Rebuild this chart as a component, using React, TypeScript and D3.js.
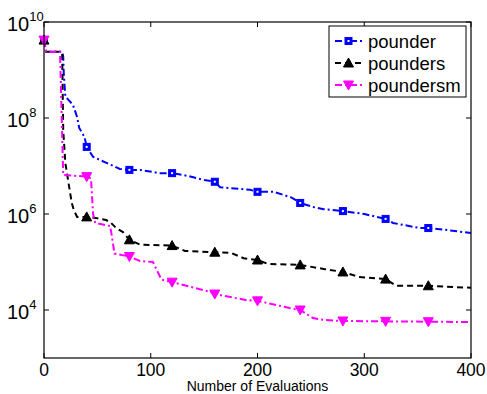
import React from "react";
import * as d3 from "d3";

// evaluations / objective values
const pounderEvals = [0, 2, 17, 18, 18.5, 20, 27, 31, 33, 38, 40, 46, 59, 71, 80, 90, 108, 120, 135, 150, 160, 165, 193, 200, 215, 232, 240, 252, 262, 280, 300, 320, 327, 352, 360, 375, 400];
const pounderVals = [4.2e9, 2.4e9, 2.4e9, 1.9e9, 8.7e8, 2.8e8, 1.9e8, 1.05e8, 6.2e7, 4.0e7, 2.5e7, 1.55e7, 1.15e7, 8.7e6, 8.3e6, 8.3e6, 7.1e6, 7.1e6, 6.2e6, 5.1e6, 4.7e6, 3.6e6, 3.2e6, 2.9e6, 2.9e6, 2.2e6, 1.7e6, 1.4e6, 1.26e6, 1.15e6, 1.0e6, 7.9e5, 6.5e5, 5.1e5, 5.1e5, 4.7e5, 4.0e5];

const poundersEvals = [0, 2, 17, 18, 20, 24, 26, 28, 31, 40, 48, 58, 62, 68, 74, 80, 90, 120, 132, 160, 175, 187, 200, 210, 240, 263, 280, 295, 320, 330, 360, 400];
const poundersVals = [4.2e9, 2.4e9, 2.4e9, 5.6e7, 1.15e7, 3.2e6, 1.7e6, 1.2e6, 8.7e5, 8.7e5, 8.3e5, 7.5e5, 6.8e5, 5.0e5, 4.2e5, 2.9e5, 2.3e5, 2.2e5, 1.7e5, 1.6e5, 1.55e5, 1.2e5, 1.1e5, 9.1e4, 8.7e4, 7.1e4, 6.2e4, 4.9e4, 4.4e4, 3.2e4, 3.2e4, 2.9e4];

const poundersmEvals = [0, 2, 15, 18, 40, 44, 46, 48, 62, 64, 66, 80, 90, 102, 110, 120, 155, 160, 190, 200, 230, 240, 252, 262, 280, 320, 360, 400];
const poundersmVals = [4.2e9, 2.4e9, 2.4e9, 6.5e6, 6.0e6, 5.5e6, 1.0e6, 6.5e5, 5.6e5, 3.0e5, 1.5e5, 1.3e5, 1.05e5, 1.0e5, 4.3e4, 3.8e4, 2.4e4, 2.15e4, 1.6e4, 1.55e4, 1.1e4, 1.0e4, 6.8e3, 6.2e3, 5.9e3, 5.8e3, 5.7e3, 5.6e3];

const markerEvals = [0, 40, 80, 120, 160, 200, 240, 280, 320, 360];
const xTicks = [0, 100, 200, 300, 400];
const yTickExps = [4, 6, 8, 10];

const seriesNames = ["pounder", "pounders", "poundersm"];

interface Pt { e: number; v: number; }

const zip = (es: number[], vs: number[]): Pt[] => es.map((e, i) => ({ e, v: vs[i] }));

const series = [
  { name: seriesNames[0], pts: zip(pounderEvals, pounderVals), color: "#0000ff", dash: "7,3,2,3", marker: "square" },
  { name: seriesNames[1], pts: zip(poundersEvals, poundersVals), color: "#000000", dash: "6,4", marker: "up" },
  { name: seriesNames[2], pts: zip(poundersmEvals, poundersmVals), color: "#ff00ff", dash: "7,3,2,3", marker: "down" },
];

const W = 487, H = 394;
const left = 44, right = 471, top = 22, bottom = 358;

const xScale = d3.scaleLinear().domain([0, 400]).range([left, right]);
const yScale = d3.scaleLog().domain([1e3, 1e10]).range([bottom, top]);

const line = d3.line<Pt>().x((d) => xScale(d.e)).y((d) => yScale(d.v));

function Marker({ kind, x, y, color }: { kind: string; x: number; y: number; color: string }) {
  if (kind === "square") {
    return (
      <g>
        <rect x={x - 3.5} y={y - 3.5} width={7} height={7} fill={color} stroke={color} strokeWidth={1} />
        <rect x={x - 1} y={y - 1} width={2} height={2} fill="#fff" />
      </g>
    );
  }
  if (kind === "up") {
    return <path d={`M${x},${y - 5}L${x + 5},${y + 4}L${x - 5},${y + 4}Z`} fill={color} stroke={color} strokeWidth={1} />;
  }
  return <path d={`M${x},${y + 5}L${x + 5},${y - 4}L${x - 5},${y - 4}Z`} fill={color} stroke={color} strokeWidth={1} />;
}

export default function App() {
  const legendY = [41, 63, 85];
  return (
    <svg width={W} height={H} style={{ position: "absolute", left: 0, top: 0, background: "#fff" }}
      fontFamily="'Liberation Sans', Arial, Helvetica, sans-serif">
      <rect x={0} y={0} width={W} height={H} fill="#fff" />
      <defs>
        <clipPath id="plot">
          <rect x={left} y={top} width={right - left} height={bottom - top} />
        </clipPath>
      </defs>

      {/* series lines */}
      <g clipPath="url(#plot)">
        {series.map((s) => (
          <path key={s.name} d={line(s.pts) || ""} fill="none" stroke={s.color} strokeWidth={2}
            strokeDasharray={s.dash} />
        ))}
      </g>
      {series.map((s) => (
        <g key={s.name + "-m"}>
          {s.pts.filter((p) => markerEvals.includes(p.e)).map((p) => (
            <Marker key={p.e} kind={s.marker} x={xScale(p.e)} y={yScale(p.v)} color={s.color} />
          ))}
        </g>
      ))}

      {/* axes box */}
      <rect x={left} y={top} width={right - left} height={bottom - top} fill="none" stroke="#000" strokeWidth={1.2} />
      {xTicks.map((t) => (
        <g key={"x" + t}>
          <line x1={xScale(t)} x2={xScale(t)} y1={bottom} y2={bottom - 5} stroke="#000" />
          <line x1={xScale(t)} x2={xScale(t)} y1={top} y2={top + 5} stroke="#000" />
          <text x={xScale(t)} y={375.5} fontSize={17.5} textAnchor="middle" fill="#000">{t}</text>
        </g>
      ))}
      {yTickExps.map((p) => {
        const y = yScale(Math.pow(10, p));
        return (
          <g key={"y" + p}>
            <line x1={left} x2={left + 5} y1={y} y2={y} stroke="#000" />
            <line x1={right} x2={right - 5} y1={y} y2={y} stroke="#000" />
            <text x={7} y={y + 9} fontSize={20} fill="#000">
              10<tspan dy={-10} fontSize={13}>{p}</tspan>
            </text>
          </g>
        );
      })}
      <text x={(left + right) / 2} y={391} fontSize={14} textAnchor="middle" fill="#000">Number of Evaluations</text>

      {/* legend */}
      <rect x={329} y={26} width={137} height={71} fill="#fff" stroke="#000" strokeWidth={1} />
      {series.map((s, i) => (
        <g key={s.name + "-l"}>
          <line x1={335} x2={362} y1={legendY[i]} y2={legendY[i]} stroke={s.color} strokeWidth={2} strokeDasharray={s.dash} />
          <Marker kind={s.marker} x={348.5} y={legendY[i]} color={s.color} />
          <text x={368} y={legendY[i] + 6.5} fontSize={18.5} fill="#000">{s.name}</text>
        </g>
      ))}
    </svg>
  );
}
